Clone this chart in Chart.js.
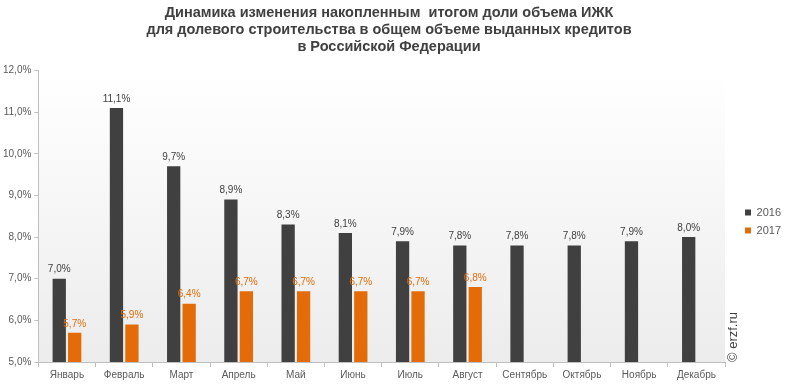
<!DOCTYPE html>
<html>
<head>
<meta charset="utf-8">
<script src="https://cdn.jsdelivr.net/npm/chart.js@4/dist/chart.umd.min.js"></script>
<style>
  html, body { margin: 0; padding: 0; background: #fff; }
  #wrap { width: 790px; height: 387px; position: relative; }
</style>
</head>
<body>
<div id="wrap"><canvas id="chart"></canvas></div>
<script>
// categories and values
const months = ['Январь', 'Февраль', 'Март', 'Апрель', 'Май', 'Июнь', 'Июль', 'Август', 'Сентябрь', 'Октябрь', 'Ноябрь', 'Декабрь'];
const share2016 = [7.0, 11.1, 9.7, 8.9, 8.3, 8.1, 7.9, 7.8, 7.8, 7.8, 7.9, 8.0];
const share2017 = [5.7, 5.9, 6.4, 6.7, 6.7, 6.7, 6.7, 6.8, null, null, null, null];
const titleLines = [
    'Динамика изменения накопленным  итогом доли объема ИЖК',
    'для долевого строительства в общем объеме выданных кредитов',
    'в Российской Федерации'
];

const colors = { dark: '#404040', orange: '#e36c09', axis: '#bfbfbf', text: '#595959' };
const fmt = v => v.toFixed(1).replace('.', ',') + '%';

// plot area gradient (white on top, light grey at bottom)
const plotBg = {
    id: 'plotBg',
    beforeDraw(chart) {
        const { ctx, chartArea: a } = chart;
        const g = ctx.createLinearGradient(0, a.top, 0, a.bottom);
        g.addColorStop(0, '#ffffff');
        g.addColorStop(1, '#ececec');
        ctx.save();
        ctx.fillStyle = g;
        ctx.fillRect(a.left, a.top, a.right - a.left, a.bottom - a.top);
        ctx.restore();
    }
};

// nudge the legend a bit away from the plot, like in the original
const legendShift = {
    id: 'legendShift',
    afterLayout(chart) {
        const lg = chart.legend;
        if (!lg) return;
        lg.left += 13; lg.right += 13;
        lg.top += 30; lg.bottom += 30;
    }
};

// value labels above every bar
const barLabels = {
    id: 'barLabels',
    afterDatasetsDraw(chart) {
        const ctx = chart.ctx;
        ctx.save();
        ctx.font = '10px "Liberation Sans", Arial, sans-serif';
        ctx.textAlign = 'center';
        ctx.textBaseline = 'bottom';
        chart.data.datasets.forEach((ds, i) => {
            const meta = chart.getDatasetMeta(i);
            ctx.fillStyle = ds.labelColor;
            meta.data.forEach((bar, j) => {
                const v = ds.data[j];
                if (v === null) return;
                ctx.fillText(fmt(v), bar.x, bar.y - 4);
            });
        });
        ctx.restore();
    }
};

// rotated copyright mark
const watermark = {
    id: 'watermark',
    afterDraw(chart) {
        const ctx = chart.ctx;
        ctx.save();
        ctx.translate(733, 362);
        ctx.rotate(-Math.PI / 2);
        ctx.font = '13px "Liberation Sans", Arial, sans-serif';
        ctx.fillStyle = '#404040';
        ctx.textAlign = 'left';
        ctx.textBaseline = 'middle';
        ctx.fillText('© erzf.ru', 0, 0);
        ctx.restore();
    }
};

new Chart(document.getElementById('chart'), {
    type: 'bar',
    data: {
        labels: months,
        datasets: [
            { label: '2016', data: share2016, backgroundColor: colors.dark, labelColor: colors.dark,
              categoryPercentage: 0.54, barPercentage: 0.86 },
            { label: '2017', data: share2017, backgroundColor: colors.orange, labelColor: colors.orange,
              categoryPercentage: 0.54, barPercentage: 0.86 }
        ]
    },
    options: {
        responsive: true,
        maintainAspectRatio: false,
        animation: false,
        layout: { padding: { left: 0, right: 12, top: 0, bottom: 4 } },
        plugins: {
            title: {
                display: true,
                text: titleLines,
                color: '#404040',
                font: { family: '"Liberation Sans", Arial, sans-serif', size: 14.5, weight: 'bold', lineHeight: 1.16 },
                padding: { top: 5, bottom: 15 }
            },
            legend: {
                position: 'right',
                align: 'center',
                labels: {
                    boxWidth: 6, boxHeight: 6, padding: 7,
                    color: colors.text,
                    font: { family: '"Liberation Sans", Arial, sans-serif', size: 11 }
                }
            },
            tooltip: { enabled: false }
        },
        scales: {
            x: {
                grid: { display: true, drawOnChartArea: false, offset: true, color: colors.axis, tickLength: 5 },
                border: { color: colors.axis },
                ticks: { color: colors.text, font: { family: '"Liberation Sans", Arial, sans-serif', size: 10 }, maxRotation: 0, padding: 2 }
            },
            y: {
                min: 5, max: 12,
                grid: { display: true, drawOnChartArea: false, color: colors.axis, tickLength: 4 },
                border: { color: colors.axis },
                ticks: { stepSize: 1, color: colors.text, padding: 3,
                         font: { family: '"Liberation Sans", Arial, sans-serif', size: 10 },
                         callback: v => fmt(v) }
            }
        }
    },
    plugins: [plotBg, legendShift, barLabels, watermark]
});
</script>
</body>
</html>
